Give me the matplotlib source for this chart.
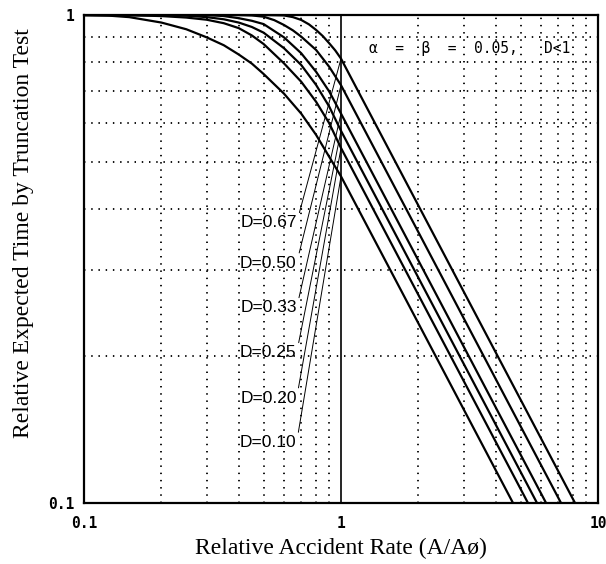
import numpy as np
import matplotlib.pyplot as plt
from matplotlib.ticker import FixedLocator, NullFormatter, FixedFormatter

# discrimination ratio of each curve (labels)
d_labels = ['D=0.67', 'D=0.50', 'D=0.33', 'D=0.25', 'D=0.20', 'D=0.10']

# expected time below A/A0 = 1
x_d67 = [0.1, 0.5, 0.6, 0.65, 0.7, 0.75, 0.8, 0.85, 0.9, 0.95, 1.0]
y_d67 = [1.0, 1.0, 0.998, 0.99, 0.977, 0.957, 0.932, 0.905, 0.875, 0.846, 0.814]

x_d50 = [0.1, 0.4, 0.45, 0.5, 0.55, 0.6, 0.65, 0.7, 0.8, 0.9, 1.0]
y_d50 = [1.0, 1.0, 0.998, 0.992, 0.976, 0.954, 0.93, 0.903, 0.848, 0.783, 0.718]

x_d33 = [0.1, 0.3, 0.35, 0.4, 0.45, 0.5, 0.6, 0.7, 0.8, 0.9, 1.0]
y_d33 = [1.0, 1.0, 0.995, 0.985, 0.973, 0.958, 0.90, 0.835, 0.765, 0.697, 0.628]

x_d25 = [0.1, 0.2, 0.25, 0.3, 0.35, 0.4, 0.45, 0.5, 0.6, 0.7, 0.8, 0.9, 1.0]
y_d25 = [1.0, 1.0, 0.997, 0.99, 0.98, 0.965, 0.945, 0.92, 0.855, 0.79, 0.719, 0.649, 0.579]

x_d20 = [0.1, 0.15, 0.2, 0.25, 0.3, 0.35, 0.4, 0.45, 0.5, 0.6, 0.7, 0.8, 0.9, 1.0]
y_d20 = [1.0, 0.999, 0.995, 0.988, 0.978, 0.962, 0.94, 0.908, 0.872, 0.796, 0.730, 0.664, 0.600, 0.534]

x_d10 = [0.1, 0.125, 0.15, 0.2, 0.25, 0.3, 0.35, 0.4, 0.45, 0.5, 0.6, 0.7, 0.8, 0.9, 1.0]
y_d10 = [1.0, 0.997, 0.99, 0.965, 0.935, 0.90, 0.867, 0.83, 0.795, 0.757, 0.69, 0.628, 0.568, 0.512, 0.467]

# A/A0 where each straight part reaches 0.1
x_end = [8.14, 7.18, 6.28, 5.79, 5.34, 4.67]

xs = [x_d67, x_d50, x_d33, x_d25, x_d20, x_d10]
ys = [y_d67, y_d50, y_d33, y_d25, y_d20, y_d10]

serif = ['Liberation Serif', 'DejaVu Serif']
mono = ['DejaVu Sans Mono']

fig = plt.figure(figsize=(6.06, 5.64), dpi=100)
ax = fig.add_axes([84/606, 61/564, 514/606, 488/564])
ax.set_xscale('log')
ax.set_yscale('log')
ax.set_xlim(0.1, 10)
ax.set_ylim(0.1, 1)

# dotted grid on every decade step
dots = dict(color='black', linestyle=(0, (0.8, 3.2)), linewidth=1.3)
for v in [0.2, 0.3, 0.4, 0.5, 0.6, 0.7, 0.8, 0.9, 2, 3, 4, 5, 6, 7, 8, 9]:
    ax.axvline(v, **dots)
for v in [0.2, 0.3, 0.4, 0.5, 0.6, 0.7, 0.8, 0.9]:
    ax.axhline(v, **dots)
ax.axvline(1, color='black', linewidth=1.2)

for xx, yy, xe in zip(xs, ys, x_end):
    ax.plot(xx + [xe], yy + [0.1], color='black', linewidth=1.6)

# labels with leader lines to the value at A/A0 = 1
label_pos = [0.375, 0.310, 0.251, 0.203, 0.164, 0.133]
for lab, yy, ly in zip(d_labels, ys, label_pos):
    ax.annotate(lab, xy=(1, yy[-1]), xytext=(0.672, ly),
                ha='right', va='center', fontsize=12.5,
                family=['Liberation Sans', 'DejaVu Sans'],
                arrowprops=dict(arrowstyle='-', lw=0.7, color='black',
                                shrinkA=0, shrinkB=0, relpos=(1, 0.5)))

ax.text(1.29, 0.852, 'α  =  β  =  0.05,   D<1', fontsize=10.5, family=mono,
        ha='left', va='center')

ax.xaxis.set_major_locator(FixedLocator([0.1, 1, 10]))
ax.xaxis.set_major_formatter(FixedFormatter(['0.1', '1', '10']))
ax.yaxis.set_major_locator(FixedLocator([0.1, 1]))
ax.yaxis.set_major_formatter(FixedFormatter(['0.1', '1']))
ax.xaxis.set_minor_formatter(NullFormatter())
ax.yaxis.set_minor_formatter(NullFormatter())
ax.tick_params(which='both', length=0)
ax.tick_params(axis='x', pad=9)
ax.tick_params(axis='y', pad=7)
for t in ax.get_xticklabels() + ax.get_yticklabels():
    t.set_family(mono)
    t.set_fontweight('bold')
    t.set_fontsize(10.5)

for s in ax.spines.values():
    s.set_linewidth(1.6)

ax.set_xlabel('Relative Accident Rate (A/Aø)', family=serif, fontsize=17, labelpad=5)
ax.set_ylabel('Relative Expected Time by Truncation Test', family=serif, fontsize=17)
ax.yaxis.set_label_coords(-0.097, 0.553)

fig.savefig('out.png', dpi=100, facecolor='white')
